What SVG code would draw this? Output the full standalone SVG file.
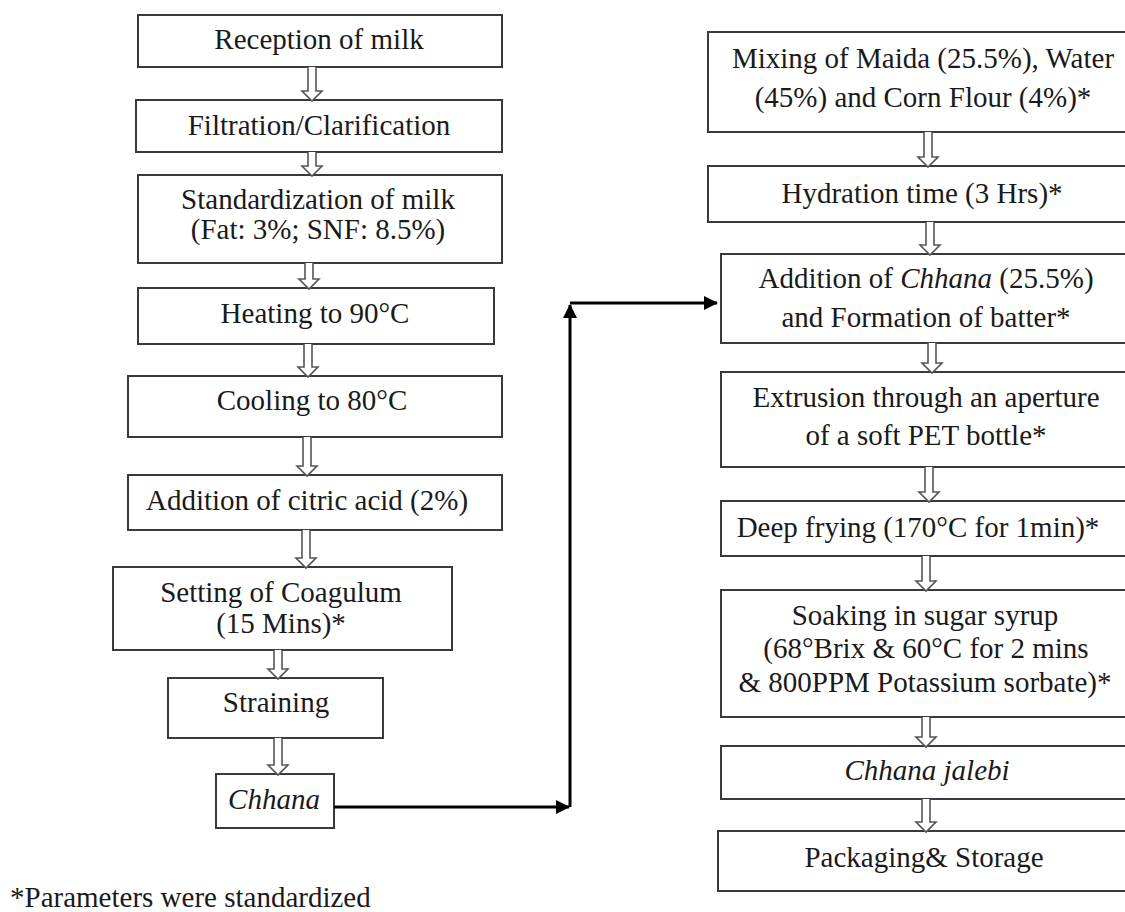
<svg xmlns="http://www.w3.org/2000/svg" width="1125" height="912" viewBox="0 0 1125 912">
<style>
.box{fill:#fff;stroke:#3a3a3a;stroke-width:2}
.t{font-family:"Liberation Serif","DejaVu Serif",serif;font-size:29px;fill:#1a1a1a;text-anchor:middle}
.i{font-style:italic}
.ha{fill:#fff;stroke:#555;stroke-width:1.6;stroke-linejoin:miter}
.con{fill:none;stroke:#000;stroke-width:3}
</style>
<defs>
<marker id="ah" markerWidth="14" markerHeight="14" refX="13" refY="7" orient="auto" markerUnits="userSpaceOnUse">
<path d="M0,0 L14,7 L0,14 Z" fill="#000"/>
</marker>
</defs>
<rect width="1125" height="912" fill="#fff"/>

<g id="n1"><rect class="box" x="138" y="15" width="364" height="52"/><text class="t" x="319" y="49">Reception of milk</text></g>
<g id="n2"><rect class="box" x="136" y="100" width="366" height="52"/><text class="t" x="319" y="135">Filtration/Clarification</text></g>
<g id="n3"><rect class="box" x="138" y="175" width="364" height="88"/><text class="t" x="318" y="209">Standardization of milk</text><text class="t" x="318" y="239">(Fat: 3%; SNF: 8.5%)</text></g>
<g id="n4"><rect class="box" x="138" y="288" width="356" height="56"/><text class="t" x="315" y="323">Heating to 90°C</text></g>
<g id="n5"><rect class="box" x="128" y="376" width="374" height="61"/><text class="t" x="312" y="410">Cooling to 80°C</text></g>
<g id="n6"><rect class="box" x="128" y="475" width="374" height="55"/><text class="t" x="307" y="510">Addition of citric acid (2%)</text></g>
<g id="n7"><rect class="box" x="113" y="567" width="339" height="83"/><text class="t" x="281" y="602">Setting of Coagulum</text><text class="t" x="281" y="633">(15 Mins)*</text></g>
<g id="n8"><rect class="box" x="168" y="678" width="215" height="60"/><text class="t" x="276" y="712">Straining</text></g>
<g id="n9"><rect class="box" x="216" y="774" width="118" height="54"/><text class="t i" x="274" y="809">Chhana</text></g>

<g id="n10"><rect class="box" x="708" y="32" width="432" height="100"/><text class="t" x="923" y="68">Mixing of Maida (25.5%), Water</text><text class="t" x="923" y="107">(45%) and Corn Flour (4%)*</text></g>
<g id="n11"><rect class="box" x="708" y="166" width="432" height="56"/><text class="t" x="922" y="203">Hydration time (3 Hrs)*</text></g>
<g id="n12"><rect class="box" x="721" y="254" width="419" height="89"/><text class="t" x="926" y="288">Addition of <tspan class="i">Chhana</tspan> (25.5%)</text><text class="t" x="926" y="327">and Formation of batter*</text></g>
<g id="n13"><rect class="box" x="721" y="372" width="419" height="95"/><text class="t" x="926" y="407">Extrusion through an aperture</text><text class="t" x="926" y="445">of a soft PET bottle*</text></g>
<g id="n14"><rect class="box" x="721" y="501" width="419" height="55"/><text class="t" x="918" y="537">Deep frying (170°C for 1min)*</text></g>
<g id="n15"><rect class="box" x="721" y="590" width="419" height="127"/><text class="t" x="925" y="625">Soaking in sugar syrup</text><text class="t" x="926" y="658">(68°Brix &amp; 60°C for 2 mins</text><text class="t" x="925" y="692">&amp; 800PPM Potassium sorbate)*</text></g>
<g id="n16"><rect class="box" x="721" y="746" width="419" height="53"/><text class="t i" x="927" y="780">Chhana jalebi</text></g>
<g id="n17"><rect class="box" x="718" y="831" width="422" height="60"/><text class="t" x="924" y="867">Packaging&amp; Storage</text></g>

<g id="connectors">
<path class="ha" d="M308,67 V91 H302 L312,101 L322,91 H316 V67"/>
<path class="ha" d="M308,152 V166 H302 L312,176 L322,166 H316 V152"/>
<path class="ha" d="M305,263 V279 H299 L309,289 L319,279 H313 V263"/>
<path class="ha" d="M304,344 V367 H298 L308,377 L318,367 H312 V344"/>
<path class="ha" d="M303,437 V466 H297 L307,476 L317,466 H311 V437"/>
<path class="ha" d="M302,530 V558 H296 L306,568 L316,558 H310 V530"/>
<path class="ha" d="M274,650 V669 H268 L278,679 L288,669 H282 V650"/>
<path class="ha" d="M274,738 V765 H268 L278,775 L288,765 H282 V738"/>

<path class="ha" d="M924,132 V157 H918 L928,167 L938,157 H932 V132"/>
<path class="ha" d="M926,222 V245 H920 L930,255 L940,245 H934 V222"/>
<path class="ha" d="M928,343 V363 H922 L932,373 L942,363 H936 V343"/>
<path class="ha" d="M925,467 V492 H919 L929,502 L939,492 H933 V467"/>
<path class="ha" d="M922,556 V581 H916 L926,591 L936,581 H930 V556"/>
<path class="ha" d="M922,717 V737 H916 L926,747 L936,737 H930 V717"/>
<path class="ha" d="M922,799 V822 H916 L926,832 L936,822 H930 V799"/>

<path class="con" d="M334,807 H569" marker-end="url(#ah)"/>
<path class="con" d="M570,807 V305" marker-end="url(#ah)"/>
<path class="con" d="M570,303 H717" marker-end="url(#ah)"/>
</g>

<text x="10" y="907" font-family="Liberation Serif, DejaVu Serif, serif" font-size="29" fill="#1a1a1a">*Parameters were standardized</text>
</svg>
